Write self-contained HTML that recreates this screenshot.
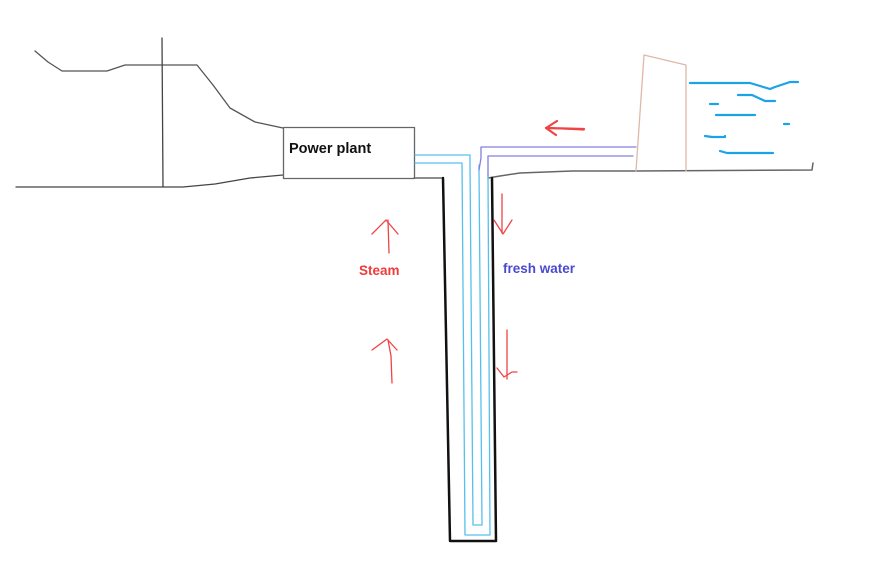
<!DOCTYPE html>
<html><head><meta charset="utf-8"><style>
html,body{margin:0;padding:0;background:#fff;}
svg{display:block;}
text{font-family:"Liberation Sans",sans-serif;font-weight:bold;}
</style></head><body>
<svg width="889" height="567" viewBox="0 0 889 567" xmlns="http://www.w3.org/2000/svg">
<g fill="none" stroke-linecap="round" stroke-linejoin="round">
<!-- hill -->
<polyline points="35,51 48,62 62,71 107,71 125,65 197,65 213,85 230,108 255,122 283,128" stroke="#555" stroke-width="1.3"/>
<line x1="162" y1="38" x2="163" y2="187" stroke="#444" stroke-width="1.3"/>
<polyline points="16,187 183,187 215,184 250,178 283,175" stroke="#444" stroke-width="1.3"/>
<!-- power plant box -->
<rect x="283.5" y="127.5" width="131" height="51" stroke="#666" stroke-width="1.3"/>
<!-- ground right -->
<polyline points="414,178 443,178" stroke="#666" stroke-width="1.5"/>
<polyline points="488,178 500,176 520,173 572,171 635,171 812,170 813,163" stroke="#666" stroke-width="1.5"/>
<!-- shaft -->
<polyline points="443,178 450,541 496,541 492,178" stroke="#111" stroke-width="2.5"/>
<!-- cyan pipes -->
<polyline points="415,155 470,155 470,165 473,525 482,525 479,170 479,165" stroke="#55c0ee" stroke-width="1.3"/>
<polyline points="415,163 462,163 465,535 490,535 488,175" stroke="#55c0ee" stroke-width="1.3"/>
<!-- purple pipes -->
<polyline points="479,170 481,158 481,147 636,147" stroke="#8080dd" stroke-width="1.3"/>
<polyline points="488,176 488,156 633,156" stroke="#8080dd" stroke-width="1.3"/>
<!-- dam -->
<polyline points="636,171 644,55 686,65 686,171" stroke="#deb8a8" stroke-width="1.3"/>
<!-- water -->
<g stroke="#1aa3e6" stroke-width="2.2">
<polyline points="690,83 750,83 770,89 775,87 790,82 798,82"/>
<polyline points="738,95 752,95 765,101 775,101"/>
<line x1="710" y1="104" x2="718" y2="104"/>
<line x1="716" y1="115" x2="755" y2="115"/>
<line x1="784" y1="124" x2="789" y2="124"/>
<polyline points="705,136 712,137 725,137 725,136"/>
<polyline points="720,151 727,153 773,153"/>
</g>
<!-- red arrows -->
<g stroke="#ee4444" stroke-width="1.3">
<polyline points="546,128 584,130"/>
<polyline points="557,121 546,128 556,135" stroke-width="2.2"/>
<line x1="546" y1="128" x2="584" y2="129" stroke-width="2.2"/>
<polyline points="389,253 388,220"/>
<polyline points="372,234 386,220 398,234"/>
<polyline points="392,383 391,356 388,340"/>
<polyline points="372,350 387,339 397,350"/>
<line x1="502" y1="194" x2="502" y2="233"/>
<polyline points="494,220 503,234 512,220"/>
<line x1="507" y1="330" x2="507" y2="379"/>
<polyline points="497,368 504,377 512,372 517,372"/>
</g>
</g>
<text x="289" y="153" font-size="14.5" fill="#111">Power plant</text>
<text x="359" y="275" font-size="13.5" fill="#ee3b3b">Steam</text>
<text x="503" y="273" font-size="13.5" fill="#4a4ad0">fresh water</text>
</svg>
</body></html>
